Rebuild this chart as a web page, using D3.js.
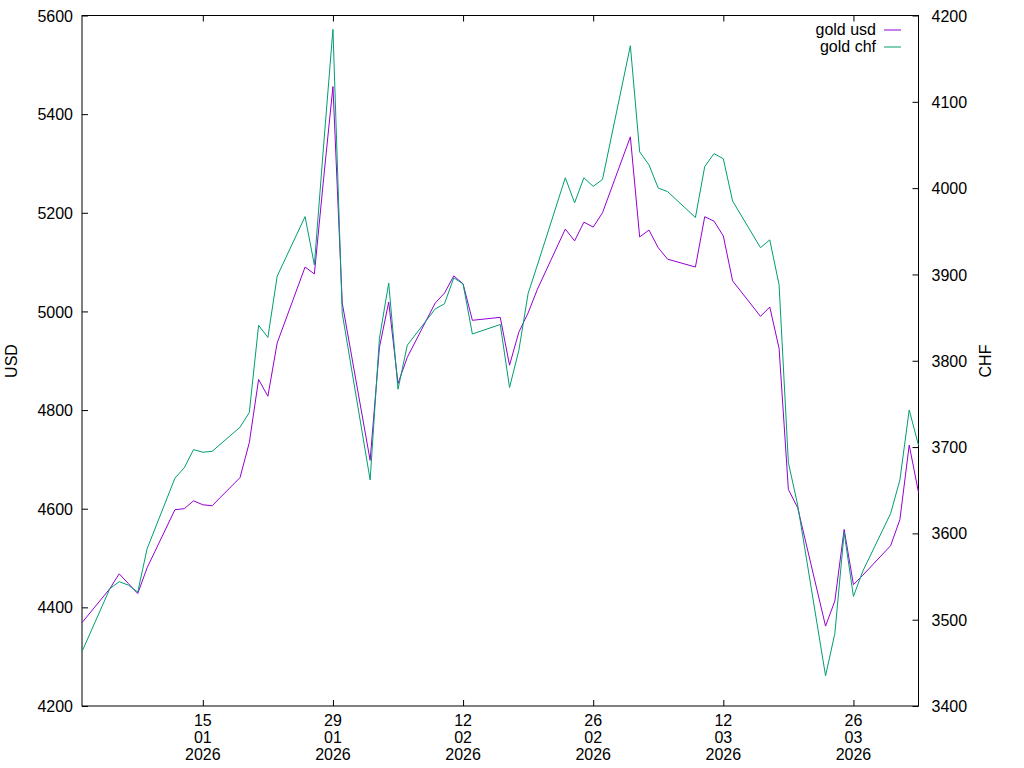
<!DOCTYPE html>
<html><head><meta charset="utf-8">
<script src="https://cdn.jsdelivr.net/npm/d3@7"></script>
<style>body{margin:0;background:#fff}text{font-family:"Liberation Sans",Arial,sans-serif;font-size:16px;fill:#000}</style>
</head><body><svg id="c" width="1024" height="768"></svg>
<script>
const dates = ["2026-01-02","2026-01-05","2026-01-06","2026-01-07","2026-01-08","2026-01-09","2026-01-12","2026-01-13","2026-01-14","2026-01-15","2026-01-16","2026-01-19","2026-01-20","2026-01-21","2026-01-22","2026-01-23","2026-01-26","2026-01-27","2026-01-28","2026-01-29","2026-01-30","2026-02-02","2026-02-03","2026-02-04","2026-02-05","2026-02-06","2026-02-09","2026-02-10","2026-02-11","2026-02-12","2026-02-13","2026-02-16","2026-02-17","2026-02-18","2026-02-19","2026-02-20","2026-02-23","2026-02-24","2026-02-25","2026-02-26","2026-02-27","2026-03-02","2026-03-03","2026-03-04","2026-03-05","2026-03-06","2026-03-09","2026-03-10","2026-03-11","2026-03-12","2026-03-13","2026-03-16","2026-03-17","2026-03-18","2026-03-19","2026-03-20","2026-03-23","2026-03-24","2026-03-25","2026-03-26","2026-03-27","2026-03-30","2026-03-31","2026-04-01","2026-04-02"];
const goldUsd = [4369,4438,4468,4448,4428,4480,4598,4600,4616,4608,4606,4663,4734,4862,4828,4936,5090,5076,5270,5456,5017,4698,4927,5019,4854,4907,5017,5037,5072,5056,4982,4988,4891,4958,4997,5045,5167,5143,5181,5171,5200,5354,5151,5165,5129,5106,5090,5192,5183,5153,5062,4990,5009,4925,4639,4602,4362,4413,4558,4446,4465,4525,4578,4729,4633];
const goldChf = [3463,3536,3544,3540,3532,3582,3664,3676,3697,3694,3695,3723,3740,3841,3827,3898,3967,3911,4050,4184,3855,3662,3826,3890,3767,3818,3860,3866,3896,3889,3831,3842,3769,3812,3878,3911,4012,3983,4012,4002,4010,4165,4042,4027,4000,3996,3966,4025,4040,4034,3985,3931,3940,3888,3682,3633,3435,3484,3601,3527,3556,3623,3662,3743,3702];
const usdTicks = [4200,4400,4600,4800,5000,5200,5400,5600];
const chfTicks = [3400,3500,3600,3700,3800,3900,4000,4100,4200];
const xTickDates = ["2026-01-15","2026-01-29","2026-02-12","2026-02-26","2026-03-12","2026-03-26"];

const L=82,R=918.5,T=15.5,B=706;
const svg=d3.select("#c");
const parse=d3.utcParse("%Y-%m-%d");
const x=d3.scaleUtc().domain([parse("2026-01-02"),parse("2026-04-02")]).range([L,R]);
const yU=d3.scaleLinear().domain([4200,5600]).range([B,T]);
const yC=d3.scaleLinear().domain([3400,4200]).range([B,T]);
const g=svg.append("g");
// left axis
const la=g.append("g").attr("transform",`translate(${L},0)`).call(d3.axisLeft(yU).tickValues(usdTicks).tickSize(-6).tickPadding(9).tickFormat(d3.format("d")));
const ra=g.append("g").attr("transform",`translate(${R},0)`).call(d3.axisRight(yC).tickValues(chfTicks).tickSize(-6).tickPadding(13).tickFormat(d3.format("d")));
const fmt=d=>"";
const ba=g.append("g").attr("transform",`translate(0,${B})`).call(d3.axisBottom(x).tickValues(xTickDates.map(parse)).tickSize(-6).tickFormat(fmt));
const ta=g.append("g").attr("transform",`translate(0,${T})`).call(d3.axisTop(x).tickValues(xTickDates.map(parse)).tickSize(-6).tickFormat(fmt));
[la,ra,ba,ta].forEach(a=>{a.select(".domain").remove();a.selectAll("line").attr("stroke","#000");a.selectAll("text").style("font-size","16px").attr("fill","#000");});
la.selectAll("text").attr("dy","0.35em");ra.selectAll("text").attr("dy","0.35em");
// tick labels 3 lines
const lab=g.append("g");
xTickDates.forEach(s=>{const d=parse(s);const parts=[d3.utcFormat("%d")(d),d3.utcFormat("%m")(d),d3.utcFormat("%Y")(d)];
 parts.forEach((p,i)=>lab.append("text").attr("x",x(d)).attr("y",726+i*17).attr("text-anchor","middle").text(p));});
g.append("rect").attr("x",L).attr("y",T).attr("width",R-L).attr("height",B-T).attr("fill","none").attr("stroke","#000").attr("stroke-width",1);
g.append("text").attr("transform","translate(17,361) rotate(-90)").attr("text-anchor","middle").text("USD");
g.append("text").attr("transform","translate(991,361) rotate(-90)").attr("text-anchor","middle").text("CHF");
const pts=dates.map((s,i)=>({d:parse(s),u:goldUsd[i],c:goldChf[i]}));
svg.append("path").datum(pts).attr("fill","none").attr("stroke","#9400d3").attr("stroke-width",1).attr("d",d3.line().x(p=>x(p.d)).y(p=>yU(p.u)));
svg.append("path").datum(pts).attr("fill","none").attr("stroke","#009e73").attr("stroke-width",1).attr("d",d3.line().x(p=>x(p.d)).y(p=>yC(p.c)));
const leg=[["gold usd","#9400d3",29],["gold chf","#009e73",46]];
leg.forEach(([t,c,y])=>{svg.append("text").attr("x",876).attr("y",y).attr("dy","0.35em").attr("text-anchor","end").text(t);
 svg.append("line").attr("x1",860+0).attr("x2",901).attr("y1",y+1).attr("y2",y+1).attr("stroke",c).attr("x1",884);});
</script></body></html>
